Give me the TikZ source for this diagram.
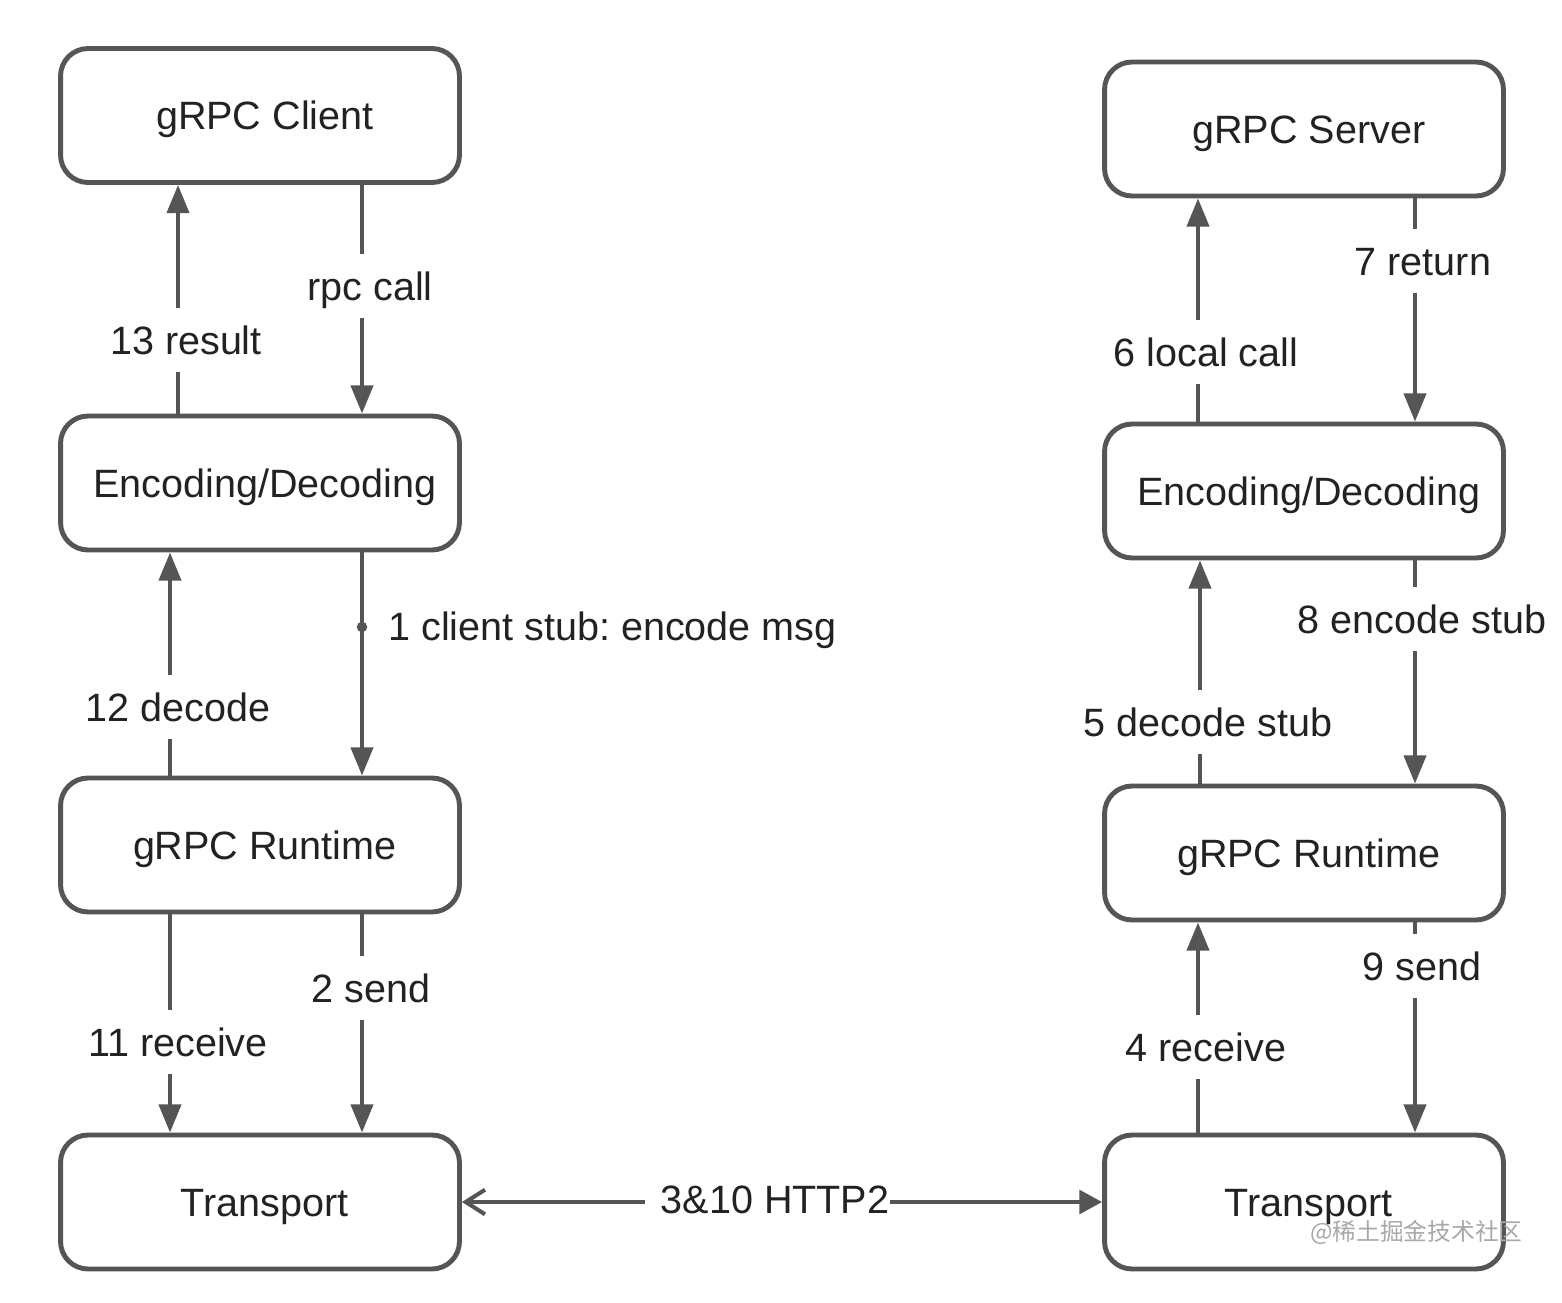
\documentclass[tikz,border=0pt]{standalone}
\usepackage{fontspec}
\setmainfont{Liberation Sans}
\newfontfamily\cjk{Noto Sans CJK SC}
\usetikzlibrary{arrows.meta}
\definecolor{edge}{HTML}{555555}
\definecolor{ink}{HTML}{222222}
\definecolor{wmark}{HTML}{A8A8A8}
\frenchspacing
\begin{document}
\begin{tikzpicture}[x=0.02cm,y=-0.02cm,
  txt/.style={text=ink, font=\fontsize{22.5}{27}\selectfont, text height=16pt, text depth=0pt},
  box/.style={txt, draw=edge, line width=2.8pt, rounded corners=0.55cm,
    minimum width=7.98cm, minimum height=2.68cm, fill=white, inner sep=0pt,
    execute at begin node=\hspace*{5.5pt}},
  arr/.style={draw=edge, line width=2.3pt, -{Triangle[length=16pt,width=12.5pt]}},
  lab/.style={txt, fill=white, inner xsep=3pt, inner ysep=10pt}]
\useasboundingbox (0,0) rectangle (1562,1302);
% boxes
\node[box] (lc) at (260,115.5) {gRPC Client};
\node[box] (le) at (260,483) {Encoding/Decoding};
\node[box] (lr) at (260,845) {gRPC Runtime};
\node[box] (lt) at (260,1202) {Transport};
\node[box] (rs) at (1304,129) {gRPC Server};
\node[box] (re) at (1304,491) {Encoding/Decoding};
\node[box] (rr) at (1304,853) {gRPC Runtime};
\node[box] (rt) at (1304,1202) {Transport};
% x positions of the vertical connectors
\coordinate (xa) at (178,0);
\coordinate (xb) at (362,0);
\coordinate (xc) at (170,0);
\coordinate (xd) at (1198,0);
\coordinate (xe) at (1200,0);
\coordinate (xf) at (1415,0);
% left column
\draw[arr] (le.north -| xa) -- (lc.south -| xa);
\draw[arr] (lc.south -| xb) -- (le.north -| xb);
\draw[arr] (lr.north -| xc) -- (le.south -| xc);
\draw[arr] (le.south -| xb) -- (lr.north -| xb);
\draw[arr] (lr.south -| xc) -- (lt.north -| xc);
\draw[arr] (lr.south -| xb) -- (lt.north -| xb);
% right column
\draw[arr] (re.north -| xd) -- (rs.south -| xd);
\draw[arr] (rs.south -| xf) -- (re.north -| xf);
\draw[arr] (rr.north -| xe) -- (re.south -| xe);
\draw[arr] (re.south -| xf) -- (rr.north -| xf);
\draw[arr] (rt.north -| xd) -- (rr.south -| xd);
\draw[arr] (rr.south -| xf) -- (rt.north -| xf);
% labels
\node[lab] (l13) at (186,340) {13 result};
\node[lab] (lrpc) at (370,286) {rpc call};
\node[lab] (l12) at (178,707) {12 decode};
\node[circle, fill=edge, inner sep=0pt, minimum size=6pt] (dot) at (362,627) {};
\node[txt, anchor=west, inner sep=0pt] (l1) at (388,626) {1 client stub: encode msg};
\node[lab] (l11) at (178,1042) {11 receive};
\node[lab] (l2) at (371,988) {2 send};
\node[lab] (l6) at (1206,352) {6 local call};
\node[lab] (l7) at (1423,261) {7 return};
\node[lab] (l5) at (1208,722) {5 decode stub};
\node[lab] (l8) at (1422,619) {8 encode stub};
\node[lab] (l4) at (1206,1047) {4 receive};
\node[lab] (l9) at (1422,966) {9 send};
% HTTP2 link
\node[txt, inner xsep=0pt, inner ysep=2pt] (http) at (775,1199) {3\&10 HTTP2};
\draw[draw=edge, line width=2.3pt, -{Straight Barb[length=11pt,width=14pt]}]
  ([xshift=-9pt]http.west |- lt.east) -- (lt.east);
\draw[draw=edge, line width=2.3pt, -{Triangle[length=13pt,width=13.5pt]}]
  (http.east |- rt.west) -- (rt.west);
% watermark
\node[text=wmark, font=\cjk\fontsize{13.5}{16}\selectfont, anchor=west, inner sep=0pt] (wm) at (1310,1232) {@稀土掘金技术社区};
\end{tikzpicture}
\end{document}
